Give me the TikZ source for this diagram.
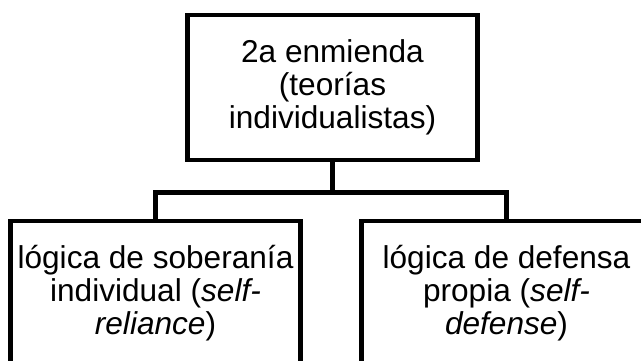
\documentclass[tikz,border=0pt]{standalone}
\usepackage{fontspec}
\setmainfont{Liberation Sans}
\usetikzlibrary{positioning}

\begin{document}
\begin{tikzpicture}[
    node distance = 56.5pt,
    every node/.style={
        font=\fontsize{31.6pt}{33pt}\selectfont
    },
    topic/.style={
        draw, rectangle, line width=4.5pt, align=center,
        inner sep=0pt, minimum width=290pt, minimum height=145pt
    },
    branch/.style={
        topic
    },
    link/.style={
        line width=4.5pt
    },
]

    \clip (0,0) rectangle (641pt,-361pt);

    \node[topic] (top) at (332.5pt,-87.5pt) {2a enmienda\\(teorías\\individualistas)};
    \node[branch,below=of top,xshift=-177pt] (self) {lógica de soberanía\\individual (\textit{self-}\\\textit{reliance})};
    \node[branch,below=of top,xshift=174pt] (defense) {lógica de defensa\\propia (\textit{self-}\\\textit{defense})};

    \draw[link] (top.south) -- ++(0,-30pt) coordinate (fork);
    \draw[link] (fork) -| (self.north);
    \draw[link] (fork) -| (defense.north);

\end{tikzpicture}
\end{document}
